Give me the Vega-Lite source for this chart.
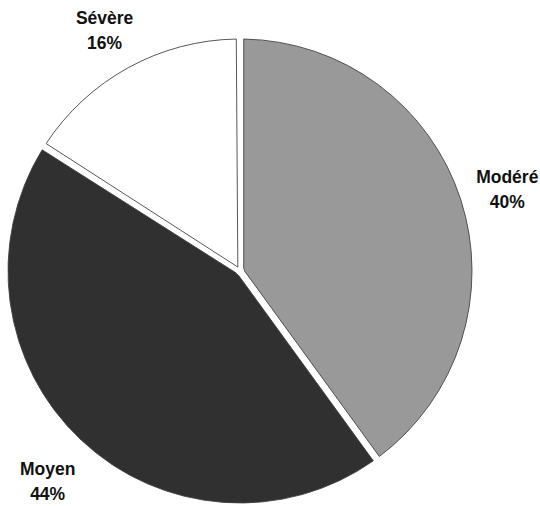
{
  "$schema": "https://vega.github.io/schema/vega-lite/v6.json",
  "autosize": {"type": "none"},
  "width": 480,
  "height": 470,
  "padding": {"left": 0, "top": 36, "right": 60, "bottom": 0},
  "background": "white",
  "view": {"stroke": null},
  "data": {"values": [
    {"categorie": "Modéré", "valeur": 40, "ordre": 1},
    {"categorie": "Moyen", "valeur": 44, "ordre": 2},
    {"categorie": "Sévère", "valeur": 16, "ordre": 3}
  ]},
  "transform": [{"calculate": "datum.categorie + '\\n' + datum.valeur + '%'", "as": "etiquette"}],
  "encoding": {
    "theta": {"field": "valeur", "type": "quantitative", "stack": true},
    "order": {"field": "ordre", "type": "quantitative"}
  },
  "layer": [
    {
      "mark": {"type": "arc", "outerRadius": 232, "innerRadius": 4.5, "padAngle": 0.032, "stroke": "#444444", "strokeWidth": 0.9},
      "encoding": {
        "color": {"field": "categorie", "type": "nominal", "scale": {"domain": ["Modéré", "Moyen", "Sévère"], "range": ["#999999", "#303030", "#ffffff"]}, "legend": null}
      }
    },
    {
      "mark": {"type": "text", "radius": 281, "dy": -6, "font": "Liberation Sans", "fontWeight": "bold", "fontSize": 17.5, "lineBreak": "\n", "lineHeight": 25, "fill": "#111111"},
      "encoding": {"text": {"field": "etiquette"}}
    }
  ]
}
